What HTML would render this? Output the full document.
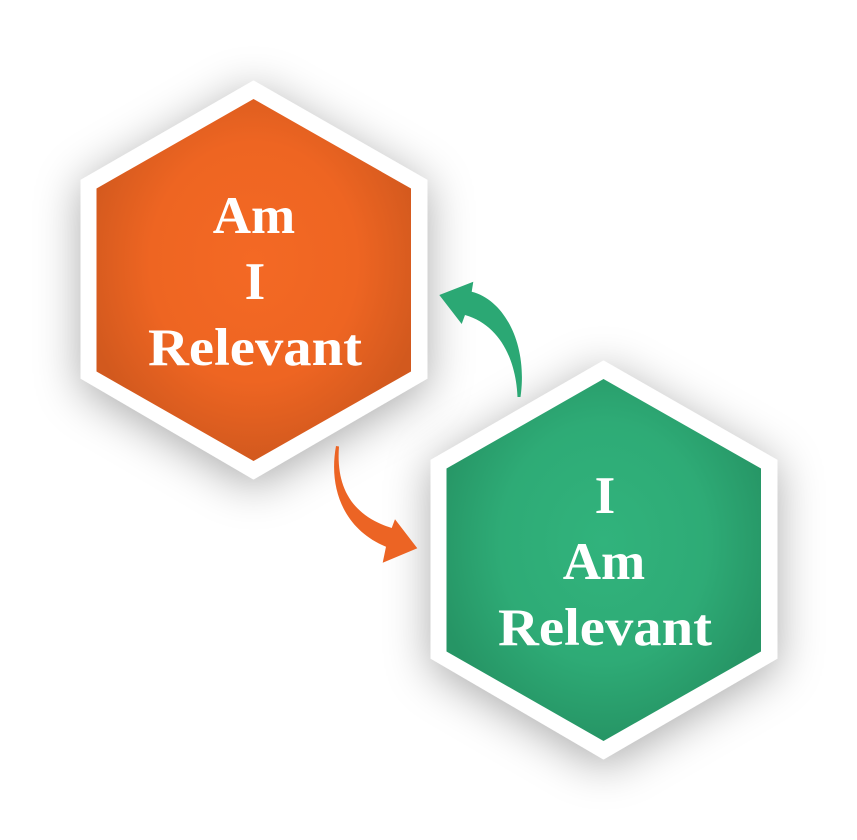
<!DOCTYPE html>
<html>
<head>
<meta charset="utf-8">
<style>
  html,body{margin:0;padding:0;background:#ffffff;}
  svg{display:block;}
  text{font-family:"Liberation Serif",serif;font-weight:bold;fill:#ffffff;}
</style>
</head>
<body>
<svg width="857" height="840" viewBox="0 0 857 840" xmlns="http://www.w3.org/2000/svg">
  <defs>
    <filter id="sh" x="-50%" y="-50%" width="200%" height="200%">
      <feDropShadow dx="0" dy="8" stdDeviation="22" flood-color="#000000" flood-opacity="0.33"/>
    </filter>
    <radialGradient id="og" cx="50%" cy="45%" r="55%">
      <stop offset="0" stop-color="#F46924"/>
      <stop offset="0.6" stop-color="#EE6522"/>
      <stop offset="1" stop-color="#D2591E"/>
    </radialGradient>
    <radialGradient id="gg" cx="50%" cy="45%" r="55%">
      <stop offset="0" stop-color="#31B37C"/>
      <stop offset="0.6" stop-color="#2EAB76"/>
      <stop offset="1" stop-color="#269565"/>
    </radialGradient>
  </defs>

  <!-- Orange hexagon -->
  <polygon points="253.5,80.5 427.5,180 427.5,378.5 253.5,479.5 80.5,378.5 80.5,180" fill="#ffffff" filter="url(#sh)"/>
  <polygon points="253.5,99 411,188.5 411,371.5 253.5,461 96.5,371.5 96.5,188.5" fill="url(#og)"/>
  <text x="254" y="233" font-size="53" text-anchor="middle">Am</text>
  <text x="255" y="299" font-size="53" text-anchor="middle">I</text>
  <text x="255" y="365" font-size="53" text-anchor="middle" textLength="214" lengthAdjust="spacingAndGlyphs">Relevant</text>

  <!-- Green hexagon -->
  <polygon points="603.5,360.5 777.5,460 777.5,658.5 603.5,759.5 430.5,658.5 430.5,460" fill="#ffffff" filter="url(#sh)"/>
  <polygon points="603.5,379 761,468.5 761,651.5 603.5,741 446.5,651.5 446.5,468.5" fill="url(#gg)"/>
  <text x="605" y="513" font-size="53" text-anchor="middle">I</text>
  <text x="604" y="579" font-size="53" text-anchor="middle">Am</text>
  <text x="605" y="645" font-size="53" text-anchor="middle" textLength="214" lengthAdjust="spacingAndGlyphs">Relevant</text>

  <!-- Green arrow (from green up to orange) -->
  <path d="M517.5,397 C516,360 500,325 465,315 L461.7,324 L439.3,295 L473.3,281.7 L471.7,291.7 C505,300 528,345 520.5,397 Z" fill="#2BA874"/>

  <!-- Orange arrow (from orange down to green) -->
  <path d="M336,446 C328,490 345,530 386,546.7 L382.7,562.7 L417.3,548.3 L395,519.3 L391.7,528 C350,515 336,485 339,446.5 Z" fill="#EC6424"/>
</svg>
</body>
</html>
